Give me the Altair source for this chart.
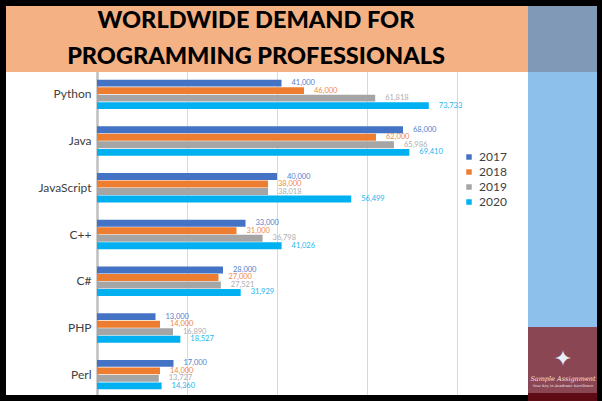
import altair as alt
import pandas as pd

langs = ["Python", "Java", "JavaScript", "C++", "C#", "PHP", "Perl"]
years = ["2017", "2018", "2019", "2020"]
v2017 = [41000, 68000, 40000, 33000, 28000, 13000, 17000]
v2018 = [46000, 62000, 38000, 31000, 27000, 14000, 14000]
v2019 = [61818, 65986, 38018, 36798, 27521, 16890, 13727]
v2020 = [73733, 69410, 56499, 41026, 31929, 18527, 14360]
colors = ["#4472C4", "#ED7D31", "#A5A5A5", "#00B0F0"]
title_lines = ["WORLDWIDE DEMAND FOR", "PROGRAMMING PROFESSIONALS"]

rows = []
for y, vals in zip(years, [v2017, v2018, v2019, v2020]):
    for l, v in zip(langs, vals):
        rows.append({"lang": l, "year": y, "value": v, "label": f"{v:,}"})
df = pd.DataFrame(rows)

W, H = 360, 327
PL, PT = 97, 71

color_scale = alt.Scale(domain=years, range=colors)
yenc = alt.Y("lang:N", sort=langs, title=None,
             scale=alt.Scale(paddingInner=0.37, paddingOuter=0.185),
             axis=alt.Axis(labelFont="Lato", labelFontSize=12, labelColor="#404040",
                           ticks=False, labelPadding=6, domainColor="#BFBFBF",
                           domainWidth=2.5, grid=False))
xenc = alt.X("value:Q", title=None, scale=alt.Scale(domain=[0, 80000], nice=False),
             axis=alt.Axis(labels=False, ticks=False, domain=False, values=[0, 20000, 40000, 60000, 80000],
                           gridColor="#D9D9D9", gridWidth=1))
yoff = alt.YOffset("year:N", sort=years, scale=alt.Scale(paddingInner=0.08))

base = alt.Chart(df)
bars = base.mark_bar().encode(
    y=yenc, x=xenc, yOffset=yoff,
    color=alt.Color("year:N", scale=color_scale, title=None,
                    legend=alt.Legend(orient="none", legendX=366, legendY=80,
                                      symbolType="square", symbolSize=30,
                                      labelFont="Lato", labelFontSize=12,
                                      labelColor="#404040", rowPadding=3)),
)
labels = base.mark_text(align="left", dx=10, fontSize=7.5, font="Lato", opacity=0.9).encode(
    y=alt.Y("lang:N", sort=langs), x="value:Q", yOffset=yoff, text="label:N",
    color=alt.Color("year:N", scale=color_scale, legend=None),
)

def rect(x1, x2, y1, y2, col):
    return alt.Chart(pd.DataFrame({"a": [0]})).mark_rect(color=col).encode(
        x=alt.value(x1 - PL), x2=alt.value(x2 - PL), y=alt.value(y1 - PT), y2=alt.value(y2 - PT))

deco = [
    rect(6, 528, 6, 72, "#F4B183"),
    rect(528, 597, 6, 72, "#8099B6"),
    rect(528, 597, 72, 327, "#8DC0EA"),
    rect(528, 597, 327, 393, "#8B4654"),
    rect(528, 597, 393, 401, "#5E0B16"),
    rect(0, 602, 0, 6, "#000000"),
    rect(0, 6, 0, 401, "#000000"),
    rect(597, 602, 0, 401, "#000000"),
    rect(0, 528, 395, 401, "#000000"),
]

def txt(s, x, y, size, col, font="Lato", weight="normal", **kw):
    return alt.Chart(pd.DataFrame({"t": [s]})).mark_text(
        fontSize=size, color=col, font=font, fontWeight=weight, baseline="alphabetic",
        align="center", **kw
    ).encode(text="t:N", x=alt.value(x - PL), y=alt.value(y - PT))

texts = [
    txt(title_lines[0], 256, 28, 23.5, "#000000", weight=900),
    txt(title_lines[1], 256, 64, 23.5, "#000000", weight=900),
    txt("Sample Assignment", 563, 381, 6.5, "#F2E6EA", font="DejaVu Serif", fontStyle="italic"),
    txt("Your Key to Academic Excellence", 563, 387, 3.6, "#F2E6EA", font="DejaVu Serif"),
    txt("✦", 563, 366, 22, "#E6F0F8", font="DejaVu Sans"),
]

chart = alt.layer(bars, labels, *deco, *texts).properties(
    width=W, height=H, background="white",
    autosize=alt.AutoSizeParams(type="none"),
    padding={"left": PL, "top": PT, "right": 602 - PL - W, "bottom": 401 - PT - H},
).configure_view(stroke=None)

chart.save("out.html", embed_options={"renderer": "svg", "actions": False})
